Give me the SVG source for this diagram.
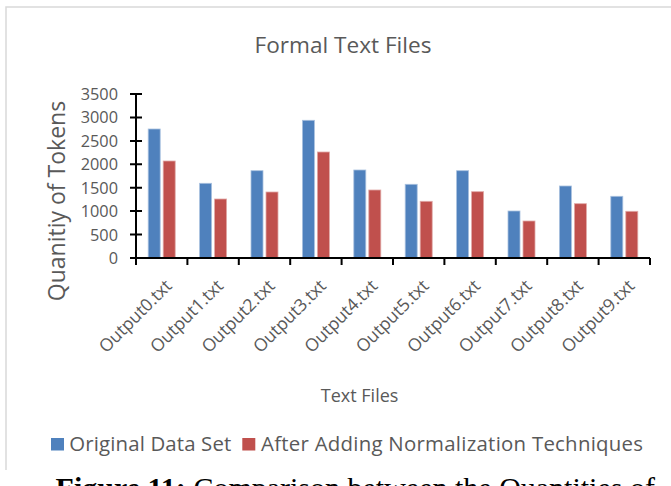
<svg xmlns="http://www.w3.org/2000/svg" width="671" height="486" viewBox="0 0 671 486">
  <style>
    .lbl { font-family: "Open Sans", "Noto Sans", sans-serif; fill: #595959; }
    .ytick { font-size: 16.3px; text-anchor: end; }
    .xtick { font-size: 17.5px; text-anchor: end; }
    .axis { stroke: #000; stroke-width: 2; fill: none; }
    .s1 { fill: #4F81BD; stroke: #A9C1DF; stroke-width: 0.8; }
    .s2 { fill: #C0504D; stroke: #E0A9A7; stroke-width: 0.8; }
    .cap { font-family: "Liberation Serif", "Times New Roman", serif; font-size: 30px; fill: #000; }
  </style>

  <rect width="671" height="486" fill="#fff"/>

  <!-- chart frame -->
  <path d="M6,470 V7 H671" fill="none" stroke="#D9D9D9" stroke-width="1.5"/>

  <!-- chart title -->
  <text id="title" class="lbl" x="343" y="52.5" font-size="22.6" text-anchor="middle">Formal Text Files</text>

  <!-- value axis title -->
  <text id="y-title" class="lbl" font-size="23" text-anchor="middle" transform="translate(65,201) rotate(-90)">Quanitiy of Tokens</text>

  <!-- value axis labels -->
  <g id="y-labels" class="lbl ytick">
    <text x="118" y="264">0</text>
    <text x="118" y="240.6">500</text>
    <text x="118" y="217.1">1000</text>
    <text x="118" y="193.7">1500</text>
    <text x="118" y="170.3">2000</text>
    <text x="118" y="146.9">2500</text>
    <text x="118" y="123.4">3000</text>
    <text x="118" y="100">3500</text>
  </g>

  <!-- series: Original Data Set -->
  <g id="series-original">
    <rect class="s1" x="148.2" y="129" width="12" height="129"/>
    <rect class="s1" x="199.6" y="183.3" width="12" height="74.7"/>
    <rect class="s1" x="251" y="170.7" width="12" height="87.3"/>
    <rect class="s1" x="302.4" y="120.3" width="12" height="137.7"/>
    <rect class="s1" x="353.8" y="170" width="12" height="88"/>
    <rect class="s1" x="405.2" y="184.3" width="12" height="73.7"/>
    <rect class="s1" x="456.6" y="170.7" width="12" height="87.3"/>
    <rect class="s1" x="508" y="211" width="12" height="47"/>
    <rect class="s1" x="559.4" y="186" width="12" height="72"/>
    <rect class="s1" x="610.8" y="196.3" width="12" height="61.7"/>
  </g>

  <!-- series: After Adding Normalization Techniques -->
  <g id="series-normalized">
    <rect class="s2" x="163.2" y="161" width="12" height="97"/>
    <rect class="s2" x="214.6" y="199" width="12" height="59"/>
    <rect class="s2" x="266" y="192" width="12" height="66"/>
    <rect class="s2" x="317.4" y="152" width="12" height="106"/>
    <rect class="s2" x="368.8" y="190" width="12" height="68"/>
    <rect class="s2" x="420.2" y="201.3" width="12" height="56.7"/>
    <rect class="s2" x="471.6" y="191.7" width="12" height="66.3"/>
    <rect class="s2" x="523" y="221" width="12" height="37"/>
    <rect class="s2" x="574.4" y="203.7" width="12" height="54.3"/>
    <rect class="s2" x="625.8" y="211.3" width="12" height="46.7"/>
  </g>

  <!-- axes with tick marks -->
  <g id="axes">
    <path class="axis" d="M136,94 V258 M130,258 H650"/>
    <path class="axis" d="M130,94 H142 M130,117.4 H142 M130,140.9 H142 M130,164.3 H142 M130,187.7 H142 M130,211.1 H142 M130,234.6 H142"/>
    <path class="axis" d="M136,258 V265 M187.4,258 V265 M238.8,258 V265 M290.2,258 V265 M341.6,258 V265 M393,258 V265 M444.4,258 V265 M495.8,258 V265 M547.2,258 V265 M598.6,258 V265 M650,258 V265"/>
  </g>

  <!-- category labels -->
  <g id="x-labels" class="lbl xtick">
    <text transform="translate(173,287) rotate(-45)">Output0.txt</text>
    <text transform="translate(224.4,287) rotate(-45)">Output1.txt</text>
    <text transform="translate(275.8,287) rotate(-45)">Output2.txt</text>
    <text transform="translate(327.2,287) rotate(-45)">Output3.txt</text>
    <text transform="translate(378.6,287) rotate(-45)">Output4.txt</text>
    <text transform="translate(430,287) rotate(-45)">Output5.txt</text>
    <text transform="translate(481.4,287) rotate(-45)">Output6.txt</text>
    <text transform="translate(532.8,287) rotate(-45)">Output7.txt</text>
    <text transform="translate(584.2,287) rotate(-45)">Output8.txt</text>
    <text transform="translate(635.6,287) rotate(-45)">Output9.txt</text>
  </g>

  <!-- category axis title -->
  <text id="x-title" class="lbl" x="359.6" y="402" font-size="18" text-anchor="middle">Text Files</text>

  <!-- legend -->
  <g id="legend">
    <rect x="51" y="438" width="13" height="12.5" fill="#4F81BD"/>
    <text class="lbl" x="69.3" y="450.7" font-size="20.4" textLength="162">Original Data Set</text>
    <rect x="242.3" y="438" width="13" height="12.5" fill="#C0504D"/>
    <text class="lbl" x="261" y="450.7" font-size="20.4" textLength="382">After Adding Normalization Techniques</text>
  </g>

  <!-- figure caption (runs past the lower edge) -->
  <text id="caption" class="cap" x="55.6" y="498"><tspan font-weight="bold">Figure 11:</tspan> Comparison between the Quantities of</text>
</svg>
